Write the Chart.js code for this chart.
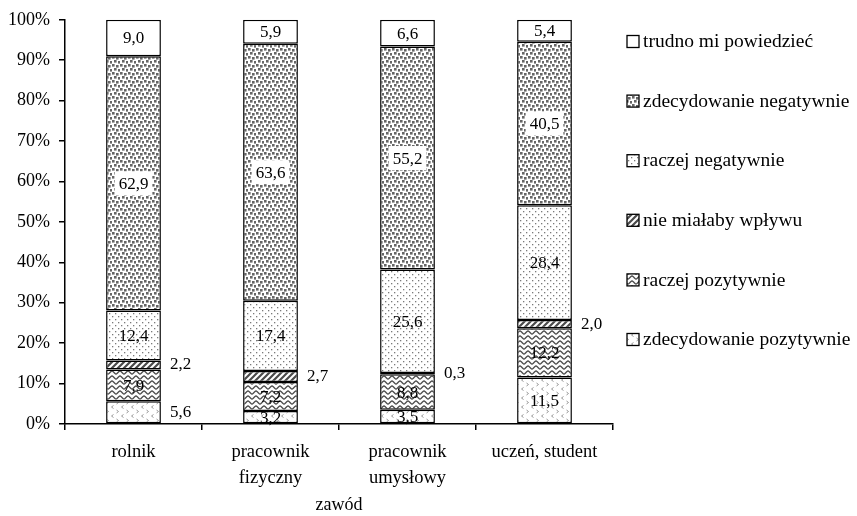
<!DOCTYPE html>
<html>
<head>
<meta charset="utf-8">
<script src="https://cdn.jsdelivr.net/npm/chart.js@4"></script>
<style>
  html, body { margin: 0; padding: 0; background: #fff; }
  #wrap { width: 857px; height: 516px; }
</style>
</head>
<body>
<div id="wrap"><canvas id="chart" width="857" height="516"></canvas></div>
<script>
// categories (zawód)
const categories = [["rolnik"], ["pracownik", "fizyczny"], ["pracownik", "umysłowy"], ["uczeń, student"]];

// answers, from bottom of the stack to top
const seriesNames = [
  "zdecydowanie pozytywnie",
  "raczej pozytywnie",
  "nie miałaby wpływu",
  "raczej negatywnie",
  "zdecydowanie negatywnie",
  "trudno mi powiedzieć"
];

const zdecPozytywnie = [5.6, 3.2, 3.5, 11.5];
const raczejPozytywnie = [7.9, 7.2, 8.8, 12.2];
const bezWplywu = [2.2, 2.7, 0.3, 2.0];
const raczejNegatywnie = [12.4, 17.4, 25.6, 28.4];
const zdecNegatywnie = [62.9, 63.6, 55.2, 40.5];
const trudno = [9.0, 5.9, 6.6, 5.4];

const yTicks = [0, 10, 20, 30, 40, 50, 60, 70, 80, 90, 100];

const FONT = '"Liberation Serif", "DejaVu Serif", serif';
Chart.defaults.font.family = FONT;
Chart.defaults.font.size = 18;
Chart.defaults.color = "#000";

// fill patterns, like the printed greyscale chart
function makePattern(w, h, draw) {
  const c = document.createElement("canvas");
  c.width = w; c.height = h;
  const g = c.getContext("2d");
  g.fillStyle = "#fff";
  g.fillRect(0, 0, w, h);
  draw(g);
  return g.createPattern(c, "repeat");
}

const patChevrons = makePattern(10, 9, g => {
  g.strokeStyle = "#9a9a9a";
  g.lineWidth = 1;
  g.beginPath();
  g.moveTo(3.5, 0.5); g.lineTo(1.5, 2); g.lineTo(3.5, 3.5);
  g.moveTo(6.5, 5); g.lineTo(8.5, 6.5); g.lineTo(6.5, 8);
  g.stroke();
});

const patWaves = makePattern(8, 5, g => {
  g.strokeStyle = "#4a4a4a";
  g.lineWidth = 1.3;
  g.beginPath();
  for (let x = -0.5; x <= 8.5; x += 0.5) {
    const y = 2.5 - 1.5 * Math.cos(2 * Math.PI * x / 8);
    if (x === -0.5) g.moveTo(x, y); else g.lineTo(x, y);
  }
  g.stroke();
});

const patHatch = makePattern(6, 6, g => {
  g.strokeStyle = "#4a4a4a";
  g.lineWidth = 2.2;
  g.beginPath();
  g.moveTo(-1, 7); g.lineTo(7, -1);
  g.moveTo(-4, 4); g.lineTo(4, -4);
  g.moveTo(2, 10); g.lineTo(10, 2);
  g.stroke();
});

const patSparseDots = makePattern(6, 6, g => {
  g.fillStyle = "#7a7a7a";
  g.fillRect(1, 1, 1.3, 1.3);
  g.fillRect(4, 4, 1.3, 1.3);
});

const patDenseDots = makePattern(8, 8, g => {
  g.fillStyle = "#666";
  g.fillRect(0, 0, 2.6, 2.6);
  g.fillRect(4, 1, 2.6, 2.6);
  g.fillRect(2, 4, 2.6, 2.6);
  g.fillRect(6, 5, 2.6, 2.6);
});

const fills = [patChevrons, patWaves, patHatch, patSparseDots, patDenseDots, "#fff"];
const values = [zdecPozytywnie, raczejPozytywnie, bezWplywu, raczejNegatywnie, zdecNegatywnie, trudno];

const datasets = seriesNames.map((name, i) => ({
  label: name,
  data: values[i],
  backgroundColor: fills[i],
  borderColor: "#000",
  borderWidth: 1.5,
  borderSkipped: false,
  barPercentage: 0.4,
  categoryPercentage: 1
}));

const fmt = v => v.toFixed(1).replace(".", ",");

// value labels on the segments
const valueLabels = {
  id: "valueLabels",
  afterDatasetsDraw(chart) {
    const ctx = chart.ctx;
    ctx.save();
    ctx.font = "17px " + FONT;
    ctx.textBaseline = "middle";
    chart.data.datasets.forEach((ds, di) => {
      chart.getDatasetMeta(di).data.forEach((el, i) => {
        const v = ds.data[i];
        const y = (el.y + el.base) / 2;
        const outside = v < 3 || (di === 0 && i === 0);
        const txt = fmt(v);
        if (outside) {
          ctx.textAlign = "left";
          ctx.fillStyle = "#000";
          ctx.fillText(txt, el.x + el.width / 2 + 9, y);
          return;
        }
        ctx.textAlign = "center";
        if (di === 4) {
          const w = ctx.measureText(txt).width + 8;
          ctx.fillStyle = "#fff";
          ctx.fillRect(el.x - w / 2, y - 12, w, 24);
        }
        ctx.fillStyle = "#000";
        ctx.fillText(txt, el.x, y + 1);
      });
    });
    ctx.restore();
  }
};

// legend on the right, top entry = top of the stack
const sideLegend = {
  id: "sideLegend",
  afterDraw(chart) {
    const ctx = chart.ctx;
    ctx.save();
    ctx.font = "19.5px " + FONT;
    ctx.textBaseline = "middle";
    ctx.textAlign = "left";
    const n = chart.data.datasets.length;
    for (let k = 0; k < n; k++) {
      const ds = chart.data.datasets[n - 1 - k];
      const cy = 42 + k * 59.6;
      ctx.fillStyle = ds.backgroundColor;
      ctx.fillRect(627, cy - 6.5, 12, 12);
      ctx.strokeStyle = "#000";
      ctx.lineWidth = 1.3;
      ctx.strokeRect(627, cy - 6.5, 12, 12);
      ctx.fillStyle = "#000";
      ctx.fillText(ds.label, 643, cy);
    }
    ctx.restore();
  }
};

new Chart(document.getElementById("chart"), {
  type: "bar",
  data: { labels: categories, datasets },
  options: {
    responsive: false,
    animation: false,
    layout: { padding: { left: 0, right: 244, top: 3, bottom: 0 } },
    plugins: {
      legend: { display: false },
      tooltip: { enabled: false }
    },
    scales: {
      x: {
        stacked: true,
        afterFit: s => { s.height = 92; },
        grid: { drawOnChartArea: false, color: "#000", lineWidth: 1.5, tickLength: 6, offset: true },
        border: { color: "#000", width: 1.5 },
        ticks: { padding: 9, maxRotation: 0, font: { size: 18.5, lineHeight: 1.4 } },
        title: { display: true, text: "zawód", padding: { top: 0, bottom: 0 }, font: { size: 18, lineHeight: 1.2 } }
      },
      y: {
        stacked: true,
        min: 0,
        max: 100,
        afterFit: s => { s.width = 65; },
        afterBuildTicks: s => { s.ticks = yTicks.map(v => ({ value: v })); },
        grid: { drawOnChartArea: false, color: "#000", lineWidth: 1.5, tickLength: 6 },
        border: { color: "#000", width: 1.5 },
        ticks: { padding: 9, callback: v => v + "%", font: { size: 18 } }
      }
    }
  },
  plugins: [valueLabels, sideLegend]
});
</script>
</body>
</html>
